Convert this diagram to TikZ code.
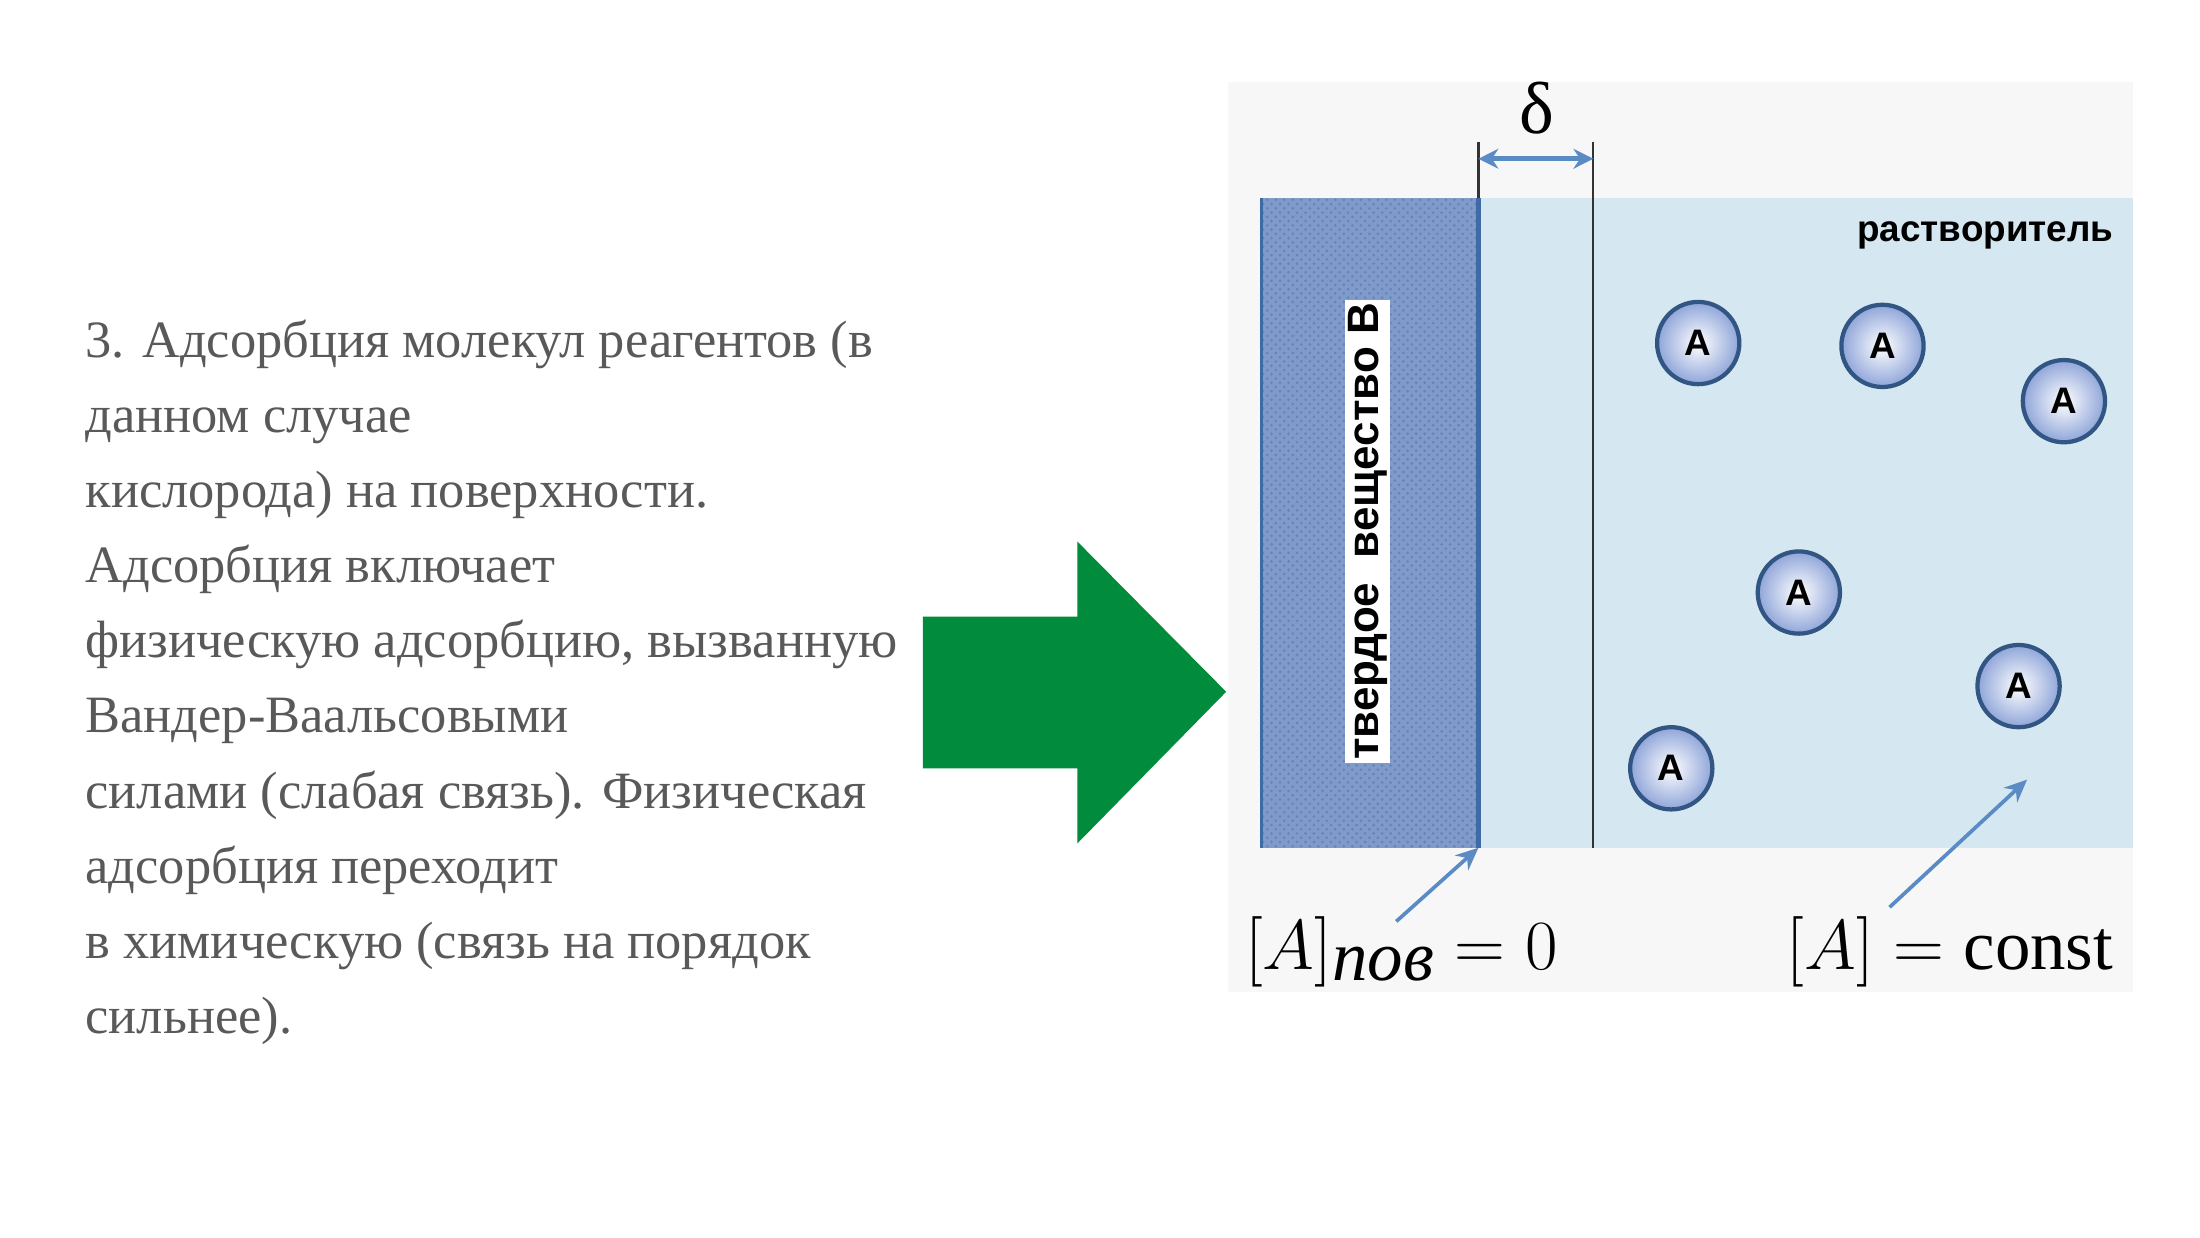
\documentclass[tikz,border=0pt]{standalone}
\usepackage{fontspec}
\setmainfont{Liberation Serif}
\setsansfont{Liberation Sans}
\usetikzlibrary{arrows.meta,patterns}
\definecolor{txt}{HTML}{595959}
\definecolor{grn}{HTML}{008C3C}
\definecolor{solv}{HTML}{D5E7F0}
\definecolor{solidc}{HTML}{7F9ACB}
\definecolor{edge}{HTML}{3F6BA5}
\definecolor{arr}{HTML}{5B8BC5}
\definecolor{molb}{HTML}{8FA5D9}
\begin{document}
\begin{tikzpicture}[x=0.5pt,y=-0.5pt,
  body/.style={anchor=base west,font=\fontsize{18.5}{26.5}\selectfont,text=txt,inner sep=0},
  mol/.style={circle,minimum size=29pt,inner sep=0,draw=edge!80!black,line width=1.5pt,
     inner color=white,outer color=molb,font=\sffamily\bfseries\fontsize{13}{13}\selectfont},
  ptr/.style={draw=arr,line width=1.3pt,-{Stealth[length=8pt,width=7pt]}}]
\useasboundingbox (0,0) rectangle (1552,873);
\fill[white] (0,0) rectangle (1552,873);
\foreach \t [count=\i] in {3. Адсорбция молекул реагентов (в,данном случае,кислорода) на поверхности.,Адсорбция включает,{физическую адсорбцию, вызванную},Вандер-Ваальсовыми,силами (слабая связь). Физическая,адсорбция переходит,в химическую (связь на порядок,сильнее).}
  \node[body] (l\i) at (60,{252+53*(\i-1)}) {\t};
\fill[grn] (651,435) -- (760,435) -- (760,382) -- (865,488) -- (760,595) -- (760,542) -- (651,542) -- cycle;
\fill[black!3] (866,58) rectangle (1505,700);
\fill[solv] (889,140) rectangle (1505,598);
\fill[solidc] (889,140) rectangle (1043,598);
\fill[pattern=crosshatch dots,pattern color=edge!85!black,opacity=0.35] (889,140) rectangle (1043,598);
\draw[edge,line width=1.2pt] (890,140) -- (890,598);
\draw[edge,line width=1.8pt] (1043,598) -- (1043,140);
\draw[black!80,line width=0.8pt] (1043,140) -- (1043,100);
\draw[black!80,line width=0.8pt] (1124,598) -- (1124,100);
\coordinate (dl) at (1043,112); \coordinate (dr) at (1124,112);
\draw[arr,line width=1.6pt,{Stealth[length=7pt,width=7pt]}-{Stealth[length=7pt,width=7pt]}] (dl) -- (dr);
\node[font=\fontsize{26}{26}\selectfont] (delta) at (1084,76) {δ};
\node[rotate=90,fill=white,inner sep=1pt,font=\sffamily\bfseries\fontsize{15.5}{15.5}\selectfont] (tv) at (965,375) {твердое\ \ вещество B};
\node[anchor=east,font=\sffamily\bfseries\fontsize{13}{13}\selectfont] (sol) at (1498,166) {растворитель};
\node[mol] (a1) at (1198,242) {A};
\node[mol] (a2) at (1328,244) {A};
\node[mol] (a3) at (1456,283) {A};
\node[mol] (a4) at (1269,418) {A};
\node[mol] (a5) at (1424,484) {A};
\node[mol] (a6) at (1179,542) {A};
\coordinate (s1) at (1043,598); \coordinate (s2) at (1430,550);
\node[anchor=base west,inner sep=0,font=\fontsize{25}{25}\selectfont] (eq1) at (878,684) {$[A]_{\textit{пов}} = 0$};
\node[anchor=base west,inner sep=0,font=\fontsize{25}{25}\selectfont] (eq2) at (1260,684) {$[A] = \mathrm{const}$};
\draw[ptr] (985,650) -- (s1);
\draw[ptr] (1333,640) -- (s2);
\end{tikzpicture}
\end{document}
